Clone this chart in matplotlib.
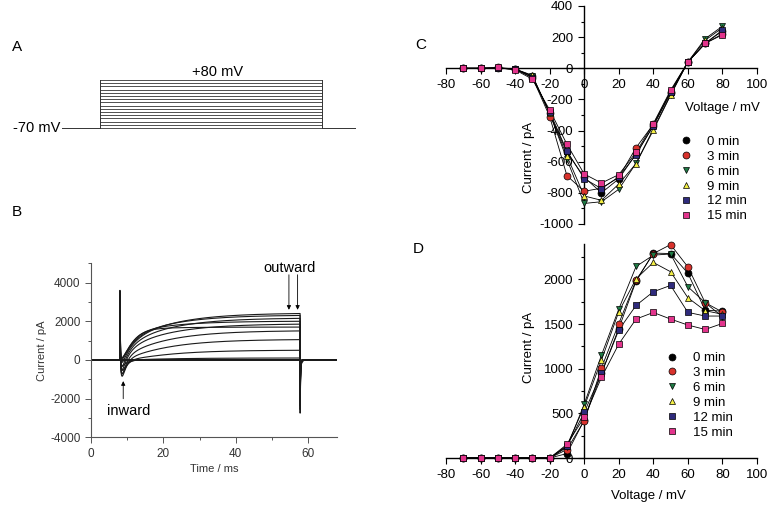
import numpy as np
import matplotlib
matplotlib.use("Agg")
import matplotlib.pyplot as plt
from matplotlib.ticker import MultipleLocator
from matplotlib.lines import Line2D

plt.rcParams['font.family'] = ['Liberation Sans', 'DejaVu Sans']
plt.rcParams['axes.unicode_minus'] = False

# ---- data ----
volt = [-70, -60, -50, -40, -30, -20, -10, 0, 10, 20, 30, 40, 50, 60, 70, 80]
labels = ['0 min', '3 min', '6 min', '9 min', '12 min', '15 min']
colors = ['#000000', '#d8322c', '#1f7a45', '#f3ee45', '#2f2b7c', '#e2348c']
markers = ['o', 'o', 'v', '^', 's', 's']

# panel C: inward current (pA)
c_0 = [0, 0, 0, -5, -50, -290, -540, -700, -800, -710, -550, -370, -160, 40, 160, 240]
c_3 = [0, 0, 5, -5, -60, -310, -690, -790, -770, -700, -510, -360, -150, 40, 160, 220]
c_6 = [0, 0, 0, -5, -50, -290, -585, -868, -857, -777, -610, -390, -170, 40, 190, 270]
c_9 = [0, 0, 0, -5, -45, -290, -563, -820, -848, -743, -612, -398, -173, 40, 180, 260]
c_12 = [0, 0, 0, -5, -60, -280, -531, -709, -773, -698, -555, -368, -150, 40, 160, 245]
c_15 = [0, 0, 5, -10, -70, -268, -488, -679, -737, -683, -540, -355, -141, 40, 160, 215]

# panel D: outward current (pA)
d_0 = [0, 0, 0, 0, 0, 0, 50, 425, 950, 1450, 1980, 2295, 2290, 2070, 1655, 1645]
d_3 = [0, 0, 0, 0, 0, 0, 95, 418, 1010, 1505, 1990, 2290, 2390, 2140, 1740, 1635]
d_6 = [0, 0, 0, 0, 0, 0, 120, 604, 1153, 1668, 2145, 2272, 2285, 1918, 1740, 1582]
d_9 = [0, 0, 0, 0, 0, 0, 140, 575, 1097, 1638, 2007, 2190, 2086, 1795, 1650, 1610]
d_12 = [0, 0, 0, 0, 0, 0, 130, 511, 948, 1433, 1709, 1862, 1933, 1631, 1590, 1590]
d_15 = [0, 0, 0, 0, 0, 0, 153, 455, 903, 1276, 1556, 1630, 1556, 1489, 1440, 1507]

# panel A: protocol
hold_mv = -70
pulse_on, pulse_off, protocol_end = 8.5, 58.5, 66.2

# panel B: raw traces, key values read per step (pA)
b_peak_in = [0, 0, 0, 0, -50, -300, -550, -750, -900, -800, -600, -450, -250, -100, 0, 0]
b_early = [0, 0, 0, 0, 0, 0, 30, 150, 400, 700, 1000, 1200, 1350, 1400, 1450, 1450]  # at 15 ms
b_late = [0, 0, 0, 0, 0, 0, 100, 500, 1050, 1500, 1850, 2150, 2400, 2300, 2000, 1700]  # at 57 ms
b_on, b_off = 8.0, 57.8
b_spike_on, b_spike_off = 3600, -2600

fig = plt.figure(figsize=(7.8, 5.07), dpi=100)

# ---- A ----
axa = fig.add_axes([62 / 780, 1 - 150 / 507, 294 / 780, 120 / 507])
axa.set_xlim(0, protocol_end)
axa.set_ylim(-138.75, 236)
axa.axis('off')
lc = '#333333'
axa.plot([0, pulse_on], [hold_mv, hold_mv], color=lc, lw=0.7)
axa.plot([pulse_off, protocol_end], [hold_mv, hold_mv], color=lc, lw=0.7)
for v in volt:
    axa.plot([pulse_on, pulse_off], [v, v], color=lc, lw=0.6)
for tt in (pulse_on, pulse_off):
    axa.plot([tt, tt], [hold_mv, max(volt)], color=lc, lw=0.7)
axa.text(-0.3, hold_mv, '-70 mV', ha='right', va='center', fontsize=10.5)
axa.text(35.1, 105, '+80 mV', ha='center', va='center', fontsize=10.5)
fig.text(17 / 780, 1 - 47 / 507, 'A', fontsize=11, va='center', ha='center')

# ---- B ----
axb = fig.add_axes([0.1167, 0.1375, 0.3154, 0.3432])
t = np.arange(0, 68.01, 0.01)
s = np.clip(t - b_on, 0, None)
fast = (1 - np.exp(-s / 2.5)) ** 2
slow = 1 - np.exp(-s / 12)
f1, s1 = (1 - np.exp(-7 / 2.5)) ** 2, 1 - np.exp(-7 / 12)
f2, s2 = (1 - np.exp(-49 / 2.5)) ** 2, 1 - np.exp(-49 / 12)
g = np.exp(-s / 1.2) - np.exp(-s / 0.35)
g = g / g.max()
on = (t >= b_on) & (t < b_off)
so = np.clip(t - b_off, 0, None)
for i, v in enumerate(volt):
    a_f, a_s = np.linalg.solve([[f1, s1], [f2, s2]], [b_early[i], b_late[i]])
    cur = np.where(on, a_f * fast + a_s * slow + b_peak_in[i] * g, 0.0)
    frac = (v - hold_mv) / (max(volt) - hold_mv)
    cur += np.where(t >= b_on, b_spike_on * frac * np.exp(-s / 0.1), 0)
    cur += np.where(t >= b_off, frac * (b_spike_off * np.exp(-so / 0.12)
                                        - 150 * np.exp(-so / 0.6)), 0)
    axb.plot(t, cur, color='#1a1a1a', lw=0.8)
axb.set_xlim(0, 68)
axb.set_ylim(-4000, 5000)
for sp in ('top', 'right'):
    axb.spines[sp].set_visible(False)
for sp in ('left', 'bottom'):
    axb.spines[sp].set_color('#555555')
    axb.spines[sp].set_linewidth(0.8)
axb.set_xticks([0, 20, 40, 60])
axb.xaxis.set_minor_locator(MultipleLocator(10))
axb.set_yticks([-4000, -2000, 0, 2000, 4000])
axb.yaxis.set_minor_locator(MultipleLocator(1000))
axb.tick_params(which='both', colors='#555555', labelcolor='#333333', labelsize=8.5, width=0.7)
axb.tick_params(which='major', length=4)
axb.tick_params(which='minor', length=2.5)
axb.set_xlabel('Time / ms', fontsize=8, color='#333333', labelpad=3)
axb.set_ylabel('Current / pA', fontsize=8, color='#333333', labelpad=2)
axb.annotate('', xy=(8.9, -950), xytext=(8.9, -2150),
             arrowprops=dict(arrowstyle='-|>', lw=0.6, color='k', mutation_scale=6))
axb.text(10.3, -2650, 'inward', ha='center', va='center', fontsize=10.5)
for tx in (54.7, 57.1):
    axb.annotate('', xy=(tx, 2450), xytext=(tx, 4550),
                 arrowprops=dict(arrowstyle='-|>', lw=0.6, color='k', mutation_scale=6),
                 annotation_clip=False)
axb.text(55.0, 4740, 'outward', ha='center', va='center', fontsize=10.5, clip_on=False)
fig.text(17 / 780, 1 - 212 / 507, 'B', fontsize=11, va='center', ha='center')


def iv_axes(rect, ylim, ymajor, yminor):
    ax = fig.add_axes(rect)
    ax.set_xlim(-80, 100)
    ax.set_ylim(*ylim)
    ax.spines['left'].set_position(('data', 0))
    ax.spines['bottom'].set_position(('data', 0))
    for sp in ('top', 'right'):
        ax.spines[sp].set_visible(False)
    for sp in ('left', 'bottom'):
        ax.spines[sp].set_linewidth(1.0)
    ax.set_xticks(range(-80, 101, 20))
    ax.yaxis.set_major_locator(MultipleLocator(ymajor))
    ax.yaxis.set_minor_locator(MultipleLocator(yminor))
    ax.tick_params(which='both', direction='out', labelsize=9.5, width=0.8)
    ax.tick_params(which='major', length=4.5)
    ax.tick_params(which='minor', length=2.5)
    return ax


def draw_series(ax, series):
    for ys, col, mk in zip(series, colors, markers):
        ax.plot(volt, ys, color='black', lw=0.6, zorder=2, clip_on=False)
        ax.plot(volt, ys, ls='none', marker=mk, ms=5, mfc=col, mec='black',
                mew=0.5, zorder=3, clip_on=False)


def iv_legend(ax, anchor):
    handles = [Line2D([], [], ls='none', marker=mk, ms=5, mfc=col, mec='black', mew=0.5)
               for col, mk in zip(colors, markers)]
    ax.legend(handles, labels, loc='upper left', bbox_to_anchor=anchor, frameon=False,
              fontsize=9.5, handlelength=1.0, handletextpad=1.1, labelspacing=0.2,
              borderpad=0, borderaxespad=0)


# ---- C ----
axc = iv_axes([0.5718, 0.5582, 0.3987, 0.4300], (-1000, 400), 200, 100)
draw_series(axc, [c_0, c_3, c_6, c_9, c_12, c_15])
axc.text(0.89, 0.532, 'Voltage / mV', transform=axc.transAxes, ha='center', va='center',
         fontsize=9.5)
axc.text(0.267, 0.307, 'Current / pA', transform=axc.transAxes, ha='center', va='center',
         rotation=90, fontsize=9.5)
iv_legend(axc, (0.750, 0.405))
fig.text(421 / 780, 1 - 45 / 507, 'C', fontsize=11, va='center', ha='center')

# ---- D ----
axd = iv_axes([0.5718, 0.0966, 0.3987, 0.4227], (0, 2400), 500, 250)
draw_series(axd, [d_0, d_3, d_6, d_9, d_12, d_15])
axd.text(0.65, -0.177, 'Voltage / mV', transform=axd.transAxes, ha='center', va='center',
         fontsize=9.5)
axd.text(0.267, 0.518, 'Current / pA', transform=axd.transAxes, ha='center', va='center',
         rotation=90, fontsize=9.5)
iv_legend(axd, (0.706, 0.495))
fig.text(418 / 780, 1 - 249 / 507, 'D', fontsize=11, va='center', ha='center')

fig.savefig('out.png', dpi=100)
